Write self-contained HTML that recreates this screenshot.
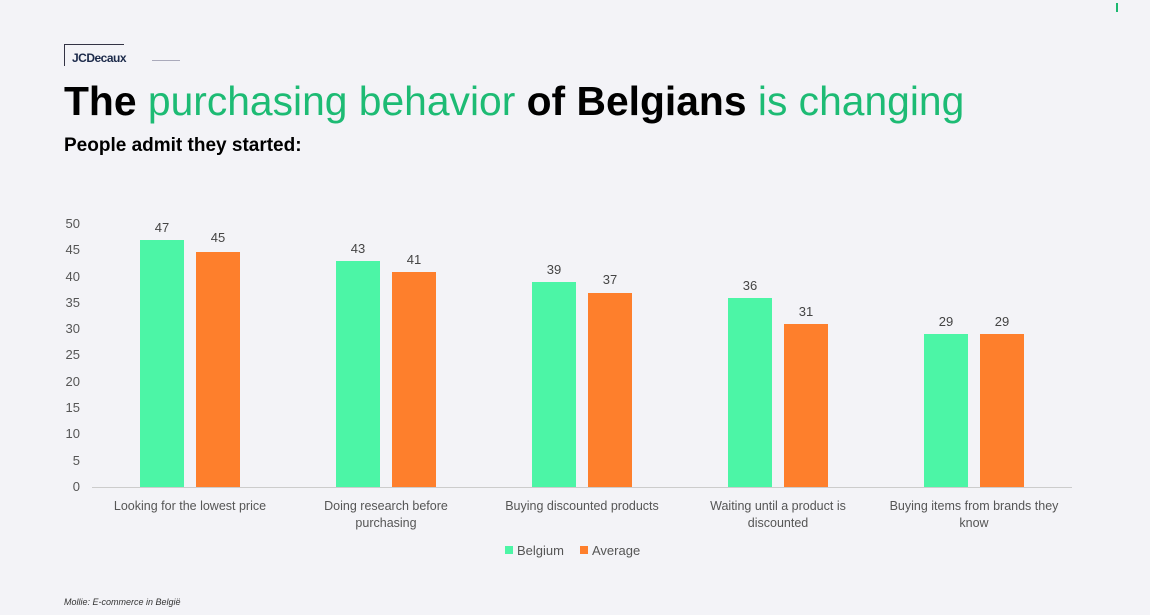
<!DOCTYPE html>
<html><head><style>
body{margin:0;width:1150px;height:615px;background:#f3f3f7;font-family:"Liberation Sans",sans-serif;position:relative;overflow:hidden}
.a{position:absolute}
.bar{position:absolute;width:44px}
.g{background:#4cf5a6}.o{background:#fe7f2c}
.v{position:absolute;width:44px;text-align:center;font-size:13px;color:#444}
.y{position:absolute;left:58px;width:22px;text-align:right;font-size:13px;color:#555}
.c{position:absolute;width:180px;text-align:center;font-size:12.5px;color:#555;line-height:17px}
</style></head><body>
<div class="a" style="left:1116px;top:3px;width:2px;height:9px;background:#1cb870"></div>
<div class="a" style="left:64px;top:44px;width:60px;height:1px;background:#334"></div>
<div class="a" style="left:64px;top:44px;width:1px;height:22px;background:#334"></div>
<div class="a" style="left:72px;top:51px;font-size:12px;font-weight:bold;color:#1c2a4a;letter-spacing:-0.5px">JCDecaux</div>
<div class="a" style="left:152px;top:60px;width:28px;height:1px;background:#aab"></div>
<div class="a" style="left:64px;top:78px;font-size:40.8px;white-space:nowrap;color:#000"><b>The</b> <span style="color:#1dbb74">purchasing behavior</span> <b>of Belgians</b> <span style="color:#1dbb74">is changing</span></div>
<div class="a" style="left:64px;top:135px;font-size:19px;font-weight:bold">People admit they started:</div>
<div class="y" style="top:216px">50</div><div class="y" style="top:242px">45</div><div class="y" style="top:269px">40</div><div class="y" style="top:295px">35</div><div class="y" style="top:321px">30</div><div class="y" style="top:347px">25</div><div class="y" style="top:374px">20</div><div class="y" style="top:400px">15</div><div class="y" style="top:426px">10</div><div class="y" style="top:453px">5</div><div class="y" style="top:479px">0</div>
<div class="a" style="left:92px;top:487px;width:980px;height:1px;background:#ccc"></div>
<div class="bar g" style="left:140px;top:240px;height:247px"></div><div class="v" style="left:140px;top:220px">47</div>
<div class="bar o" style="left:196px;top:252px;height:235px"></div><div class="v" style="left:196px;top:230px">45</div>
<div class="bar g" style="left:336px;top:261px;height:226px"></div><div class="v" style="left:336px;top:241px">43</div>
<div class="bar o" style="left:392px;top:272px;height:215px"></div><div class="v" style="left:392px;top:252px">41</div>
<div class="bar g" style="left:532px;top:282px;height:205px"></div><div class="v" style="left:532px;top:262px">39</div>
<div class="bar o" style="left:588px;top:293px;height:194px"></div><div class="v" style="left:588px;top:272px">37</div>
<div class="bar g" style="left:728px;top:298px;height:189px"></div><div class="v" style="left:728px;top:278px">36</div>
<div class="bar o" style="left:784px;top:324px;height:163px"></div><div class="v" style="left:784px;top:304px">31</div>
<div class="bar g" style="left:924px;top:334px;height:153px"></div><div class="v" style="left:924px;top:314px">29</div>
<div class="bar o" style="left:980px;top:334px;height:153px"></div><div class="v" style="left:980px;top:314px">29</div>
<div class="c" style="left:100px;top:498px">Looking for the lowest price</div>
<div class="c" style="left:296px;top:498px">Doing research before<br>purchasing</div>
<div class="c" style="left:492px;top:498px">Buying discounted products</div>
<div class="c" style="left:688px;top:498px">Waiting until a product is<br>discounted</div>
<div class="c" style="left:884px;top:498px">Buying items from brands they<br>know</div>
<div class="a" style="left:505px;top:546px;width:8px;height:8px;background:#4cf5a6"></div>
<div class="a" style="left:517px;top:543px;font-size:13px;color:#555">Belgium</div>
<div class="a" style="left:580px;top:546px;width:8px;height:8px;background:#fe7f2c"></div>
<div class="a" style="left:592px;top:543px;font-size:13px;color:#555">Average</div>
<div class="a" style="left:64px;top:597px;font-size:9px;font-style:italic;color:#333">Mollie: E-commerce in België</div>
</body></html>
